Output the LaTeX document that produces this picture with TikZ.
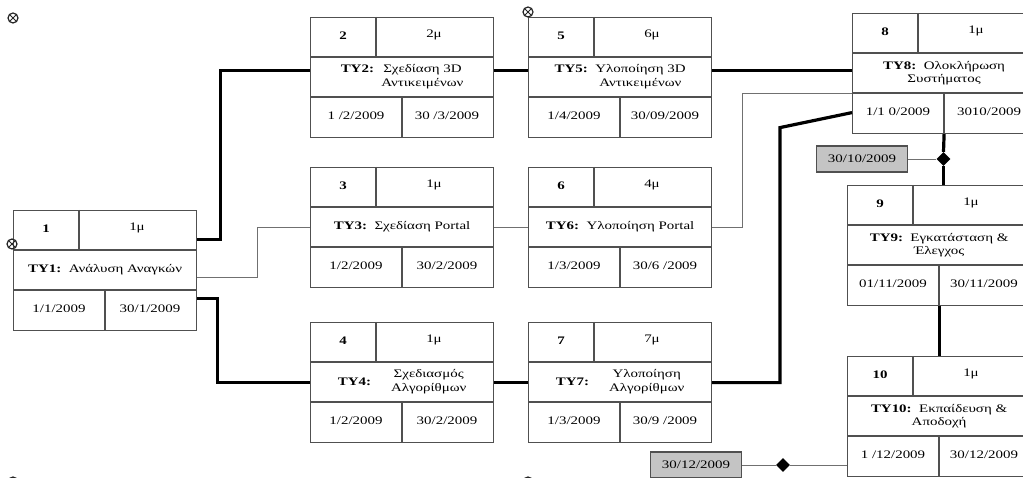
\documentclass[tikz,border=0pt]{standalone}
\usepackage{fontspec}
\setmainfont[FakeStretch=1.3]{Liberation Serif}
\usepackage{tikz}
\usetikzlibrary{shapes.geometric}
\definecolor{boxgray}{HTML}{505050}
\definecolor{linegray}{HTML}{707070}
\definecolor{msgray}{HTML}{C4C4C4}

% one task box: name, top-left, number, duration, title, start, end
\newcommand{\tybox}[7]{%
  \node[tybox] (#1) at #2 {};
  \draw[cell] ([yshift=-40pt]#1.north west) -- ([yshift=-40pt]#1.north east)
    ([yshift=-80pt]#1.north west) -- ([yshift=-80pt]#1.north east)
    ([xshift=66pt]#1.north west) -- ([xshift=66pt,yshift=-40pt]#1.north west)
    ([xshift=92pt,yshift=-80pt]#1.north west) -- ([xshift=92pt]#1.south west);
  \node[numtxt] (#1-num) at ([shift={(33pt,-19pt)}]#1.north west) {#3};
  \node (#1-dur) at ([shift={(124pt,-18pt)}]#1.north west) {#4};
  \node[align=center] (#1-name) at ([yshift=-60pt]#1.north) {#5};
  \node (#1-start) at ([shift={(46pt,22pt)}]#1.south west) {#6};
  \node (#1-end) at ([shift={(137pt,22pt)}]#1.south west) {#7};
}

\begin{document}
\begin{tikzpicture}[
    x=1pt,y=-1pt,
    every node/.append style={font=\fontsize{11.5}{13.5}\selectfont},
    tybox/.style={draw=boxgray,line width=1.2pt,minimum width=183pt,
                  minimum height=120pt,anchor=north west,inner sep=0pt},
    cell/.style={boxgray,line width=1.2pt},
    numtxt/.style={font=\fontsize{11.5}{13.5}\selectfont\bfseries},
    heavy/.style={line width=3.2pt,black},
    light/.style={line width=0.8pt,linegray},
    mstone/.style={draw=boxgray,fill=msgray,line width=1.2pt,
                   minimum width=91pt,minimum height=26pt,inner sep=0pt},
    milediamond/.style={diamond,fill=black,minimum size=14pt,inner sep=0pt},
    anchormark/.style={circle,draw=black!85,line width=1.2pt,minimum size=10pt,
                       inner sep=0pt,path picture={
                         \draw[line width=0.8pt] (path picture bounding box.north west) -- (path picture bounding box.south east)
                           (path picture bounding box.north east) -- (path picture bounding box.south west);}}
  ]
  \useasboundingbox (0,0) rectangle (1023,478);
  \clip (0,0) rectangle (1023,478);

  \tybox{t1}{(13,210)}{1}{1μ}{\textbf{TY1:}\ \ Ανάλυση Αναγκών}{1/1/2009}{30/1/2009}
  \tybox{t2}{(310,17)}{2}{2μ}{\textbf{TY2:}\ \ \begin{tabular}[t]{@{}c@{}}Σχεδίαση 3D\\Αντικειμένων\end{tabular}}{1 /2/2009}{30 /3/2009}
  \tybox{t3}{(310,167)}{3}{1μ}{\textbf{TY3:}\ \ Σχεδίαση Portal}{1/2/2009}{30/2/2009}
  \tybox{t4}{(310,322)}{4}{1μ}{\textbf{TY4:}\hspace{20pt}\begin{tabular}{@{}c@{}}Σχεδιασμός\\Αλγορίθμων\end{tabular}}{1/2/2009}{30/2/2009}
  \tybox{t5}{(528,17)}{5}{6μ}{\textbf{TY5:}\ \ \begin{tabular}[t]{@{}c@{}}Υλοποίηση 3D\\Αντικειμένων\end{tabular}}{1/4/2009}{30/09/2009}
  \tybox{t6}{(528,167)}{6}{4μ}{\textbf{TY6:}\ \ Υλοποίηση Portal}{1/3/2009}{30/6 /2009}
  \tybox{t7}{(528,322)}{7}{7μ}{\textbf{TY7:}\hspace{20pt}\begin{tabular}{@{}c@{}}Υλοποίηση\\Αλγορίθμων\end{tabular}}{1/3/2009}{30/9 /2009}
  \tybox{t8}{(852,13)}{8}{1μ}{\textbf{TY8:}\ \ Ολοκλήρωση\\Συστήματος}{1/1 0/2009}{3010/2009}
  \tybox{t9}{(847,185)}{9}{1μ}{\textbf{TY9:}\ \ Εγκατάσταση \&\\Έλεγχος}{01/11/2009}{30/11/2009}
  \tybox{t10}{(847,356)}{10}{1μ}{\textbf{TY10:}\ \ Εκπαίδευση \&\\Αποδοχή}{1 /12/2009}{30/12/2009}

  \node[mstone] (ms1) at (862,159) {30/10/2009};
  \node[mstone] (ms2) at (696,465) {30/12/2009};
  \node[milediamond] (d1) at (943.5,159) {};
  \node[milediamond] (d2) at (783,465) {};

  \draw[heavy] ([yshift=31pt]t1.east) -- ++(23,0) |- ([yshift=7pt]t2.west);
  \draw[light] ([yshift=-7pt]t1.east) -- ++(60,0) |- (t3.west);
  \draw[heavy] ([yshift=-28pt]t1.east) -- ++(20,0) |- (t4.west);
  \draw[heavy] ([yshift=7pt]t2.east) -- ([yshift=7pt]t5.west);
  \draw[light] (t3.east) -- (t6.west);
  \draw[heavy] (t4.east) -- (t7.west);
  \draw[heavy] ([yshift=7pt]t5.east) -- ([yshift=3pt]t8.west);
  \draw[light] (t6.east) -- ++(30,0) |- ([yshift=-20pt]t8.west);
  \draw[heavy] (t7.east) -| ([xshift=-72pt,yshift=-54pt]t8.west) -- ([yshift=-39pt]t8.west);
  \draw[heavy] (t8.south) -- (d1.north);
  \draw[heavy] (d1.south) -- (d1 |- t9.north);
  \draw[light] (ms1.east) -- (d1.west);
  \draw[heavy] (t9.south) -- (t10.north);
  \draw[light] (ms2.east) -- (d2.west);
  \draw[light] (d2.east) -- (d2 -| t10.west);

  \node[anchormark] (m1) at (13,18) {};
  \node[anchormark] (m2) at (12,244) {};
  \node[anchormark] (m3) at (528,12) {};
  \node[anchormark] (m4) at (13,482) {};
  \node[anchormark] (m5) at (528,482) {};
\end{tikzpicture}
\end{document}
